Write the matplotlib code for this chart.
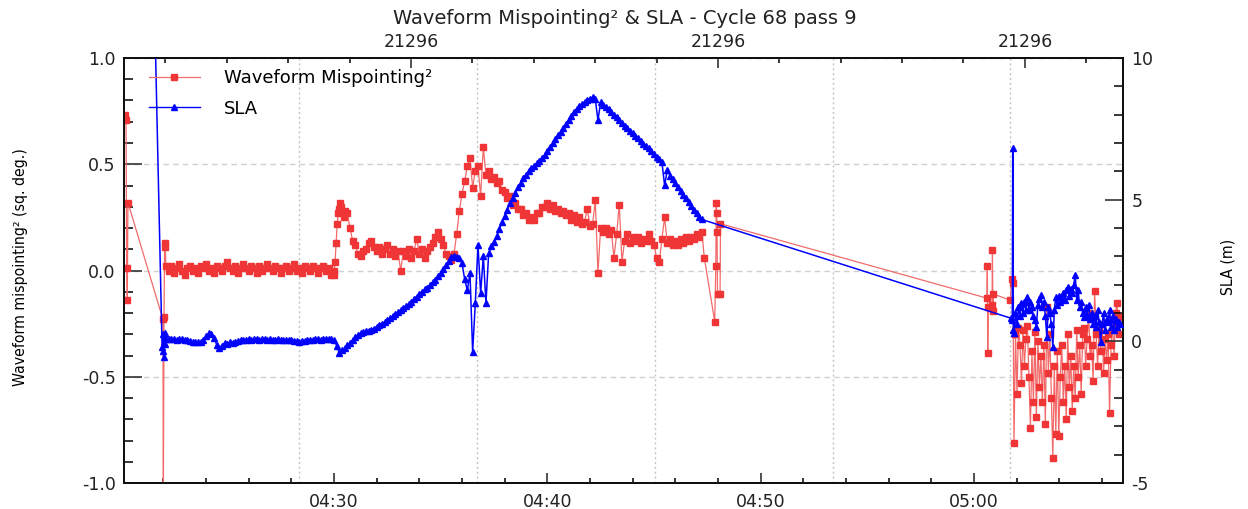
import numpy as np
import matplotlib

matplotlib.use("Agg")
import matplotlib.pyplot as plt
from matplotlib import font_manager
from matplotlib.lines import Line2D
from matplotlib.ticker import FixedLocator, FuncFormatter, MultipleLocator

plt.rcParams["axes.unicode_minus"] = False

# time is in minutes after 04:00; regular stretches are stored as (start, step, values)
MIS_HEAD_T = [20.22, 20.25, 20.28, 20.31, 20.34, 21.98, 22.00, 22.03, 22.06, 22.09, 22.12]
MIS_HEAD = [0.73, 0.71, 0.01, -0.14, 0.32, -0.23, -1.05, -0.22, 0.13, 0.11, 0.02]

MIS_FLAT_T0, MIS_FLAT_DT = 22.25, 0.125
MIS_FLAT = [
    0.00, 0.02, -0.01, 0.01, 0.03, 0.00, -0.02, 0.01, 0.02, 0.00,
    0.01, -0.01, 0.02, 0.01, 0.03, 0.00, 0.01, -0.01, 0.02, 0.01,
    0.00, 0.02, 0.04, 0.01, 0.00, 0.02, -0.01, 0.01, 0.03, 0.01,
    0.00, 0.02, 0.01, -0.01, 0.02, 0.00, 0.01, 0.03, 0.01, 0.00,
    0.02, 0.01, -0.01, 0.01, 0.02, 0.00, 0.01, 0.03, 0.00, 0.01,
    -0.01, 0.02, 0.01, 0.00, 0.02, 0.01, -0.01, 0.01, 0.02, 0.00,
    0.01, -0.02, 0.00,
]

MIS_RISE_T0, MIS_RISE_DT = 30.0, 0.05
MIS_RISE = [-0.02, 0.04, 0.13, 0.22, 0.27, 0.29, 0.32, 0.30, 0.27, 0.25, 0.28]

MIS_MAIN_T0, MIS_MAIN_DT = 30.625, 0.125
MIS_MAIN = [
    0.27, 0.20, 0.14, 0.12, 0.08, 0.07, 0.09, 0.10, 0.13, 0.14,
    0.11, 0.09, 0.11, 0.08, 0.10, 0.12, 0.08, 0.10, 0.07, 0.09,
    0.00, 0.09, 0.07, 0.10, 0.06, 0.09, 0.15, 0.08, 0.10, 0.06,
    0.09, 0.11, 0.13, 0.16, 0.18, 0.15, 0.12, 0.08, 0.07, 0.05,
    0.08, 0.17, 0.28, 0.36, 0.42, 0.49, 0.53, 0.39, 0.47, 0.49,
    0.35, 0.58, 0.45, 0.47, 0.43, 0.44, 0.41, 0.42, 0.38, 0.37,
    0.34, 0.35, 0.31, 0.32, 0.29, 0.29, 0.26, 0.27, 0.24, 0.25,
    0.24, 0.27, 0.27, 0.30, 0.30, 0.32, 0.29, 0.31, 0.28, 0.29,
    0.27, 0.28, 0.26, 0.27, 0.24, 0.26, 0.23, 0.25, 0.22, 0.23,
    0.29, 0.21, 0.22, 0.33, -0.01, 0.20, 0.18, 0.20, 0.17, 0.19,
    0.06, 0.17, 0.31, 0.04, 0.14, 0.17, 0.13, 0.16, 0.14, 0.16,
    0.13, 0.15, 0.14, 0.17, 0.14, 0.12, 0.06, 0.04, 0.15, 0.25,
    0.13, 0.15, 0.12, 0.14, 0.12, 0.15, 0.13, 0.16, 0.14, 0.16,
    0.15, 0.17, 0.16, 0.18,
]

MIS_GAP_T = [47.36, 47.85, 47.90, 47.92, 47.94, 47.96, 47.98, 48.10, 48.12,
             60.61, 60.63, 60.65, 60.67, 60.85, 60.87, 60.89, 60.91, 61.70, 61.78, 61.83]
MIS_GAP = [0.06, -0.24, 0.02, 0.32, 0.27, 0.18, -0.11, -0.11, 0.22,
           -0.13, 0.02, -0.39, -0.17, -0.16, 0.095, -0.19, -0.11, -0.14, -0.04, -0.06]

MIS_TAIL_T0, MIS_TAIL_DT = 61.88, 0.07
MIS_TAIL = [
    -0.81, -0.30, -0.58, -0.27, -0.35, -0.53, -0.28, -0.45, -0.32,
    -0.26, -0.50, -0.74, -0.38, -0.62, -0.29, -0.69, -0.33, -0.55,
    -0.40, -0.62, -0.35, -0.72, -0.17, -0.48, -0.30, -0.60, -0.88,
    -0.45, -0.77, -0.38, -0.78, -0.50, -0.35, -0.62, -0.45, -0.70,
    -0.30, -0.55, -0.40, -0.66, -0.45, -0.60, -0.28, -0.50, -0.35,
    -0.58, -0.30, -0.27, -0.45, -0.32, -0.20, -0.40, -0.35, -0.52,
    -0.095, -0.30, -0.45, -0.28, -0.38, -0.25, -0.48, -0.32, -0.42,
    -0.30, -0.67, -0.35, -0.25, -0.40, -0.20, -0.155, -0.30, -0.22,
]

SLA_HEAD_T = [21.58, 21.94, 21.97, 22.00, 22.03, 22.06, 22.09, 22.12]
SLA_HEAD = [12.0, -0.20, -0.35, 0.25, -0.55, 0.30, -0.10, 0.10]

SLA_FLAT_T0, SLA_FLAT_DT = 22.25, 0.125
SLA_FLAT = [
    0.10, 0.07, 0.09, 0.06, 0.08, 0.07, 0.05, 0.06, 0.02, -0.02,
    -0.04, -0.03, -0.01, 0.05, 0.18, 0.28, 0.27, 0.12, -0.12, -0.22,
    -0.18, -0.05, -0.08, -0.02, -0.06, -0.01, 0.02, 0.03, 0.06, 0.05,
    0.07, 0.06, 0.08, 0.07, 0.05, 0.08, 0.07, 0.06, 0.08, 0.06,
    0.05, 0.07, 0.06, 0.05, 0.04, 0.05, 0.03, 0.02, 0.00, -0.02,
    0.01, 0.02, 0.04, 0.06, 0.05, 0.07, 0.08, 0.06, 0.09, 0.08,
    0.10, 0.07, 0.05,
]

SLA_MAIN_T0, SLA_MAIN_DT = 30.125, 0.125
SLA_MAIN = [
    -0.15, -0.41, -0.32, -0.25, -0.12, -0.06, 0.05, 0.15, 0.22, 0.29,
    0.32, 0.35, 0.38, 0.41, 0.45, 0.52, 0.56, 0.62, 0.68, 0.75,
    0.82, 0.88, 0.95, 1.03, 1.10, 1.17, 1.25, 1.32, 1.40, 1.50,
    1.58, 1.68, 1.75, 1.83, 1.90, 1.98, 2.08, 2.18, 2.30, 2.42,
    2.55, 2.68, 2.85, 2.96, 3.00, 2.99, 2.94, 2.76, 2.20, 1.80,
    2.40, -0.37, 1.35, 3.40, 1.70, 3.00, 1.35, 3.10, 3.35, 3.52,
    3.70, 3.95, 4.20, 4.42, 4.65, 4.88, 5.05, 5.25, 5.45, 5.60,
    5.75, 5.88, 6.00, 6.10, 6.18, 6.28, 6.38, 6.47, 6.57, 6.70,
    6.85, 7.00, 7.13, 7.27, 7.40, 7.53, 7.67, 7.82, 7.97, 8.10,
    8.20, 8.30, 8.38, 8.45, 8.50, 8.55, 8.62, 8.55, 7.80, 8.45,
    8.35, 8.28, 8.20, 8.10, 8.00, 7.92, 7.80, 7.70, 7.60, 7.52,
    7.43, 7.35, 7.26, 7.18, 7.08, 6.98, 6.90, 6.82, 6.72, 6.62,
    6.52, 6.42, 6.32, 5.50, 6.05, 5.85, 5.72, 5.58, 5.45, 5.32,
    5.18, 5.05, 4.92, 4.78, 4.65, 4.52, 4.40, 4.30,
]

SLA_GAP_T = [61.72, 61.80, 61.82, 61.85]
SLA_GAP = [0.82, 0.75, 6.83, 0.40]

SLA_TAIL_T0, SLA_TAIL_DT = 61.88, 0.07
SLA_TAIL = [
    0.30, 1.00, 0.60, 1.20, 0.90, 1.35, 1.00, 1.40, 1.10,
    1.57, 1.10, 1.40, 1.20, 0.90, 0.75, 0.50, 1.30, 1.50,
    1.63, 1.20, 1.40, 0.90, 0.15, 1.20, 1.00, 0.60, -0.20,
    1.10, 1.57, 1.30, 1.60, 1.40, 1.50, 1.70, 1.45, 1.80,
    1.92, 1.60, 1.85, 1.70, 2.00, 2.34, 1.46, 1.80, 1.20,
    1.40, 1.00, 0.86, 1.20, 0.90, 1.30, 0.80, 1.00, 0.60,
    0.90, 0.50, 1.10, 0.70, -0.02, 0.60, 1.00, 0.40, 0.80,
    0.70, 1.10, 0.50, 0.90, 0.40, 0.80, 0.50, 0.70, 0.60,
]

GRID_T = [28.36, 36.70, 45.05, 53.38, 61.70]
TOP_MAJOR_T = [33.61, 48.00, 62.39]
TOP_LABEL = "21296"
TOP_MINOR_STEP = 2.878

RED = "#ef3535"
RED_LINE = "#f26a6a"
BLUE = "#0000ff"


def stamps(t0, dt, vals):
    return t0 + dt * np.arange(len(vals))


def narrow_font():
    # prefer a condensed face for the axis titles, as in the original
    for fam, stretch, size in (("Liberation Sans Narrow", "normal", 12),
                               ("DejaVu Sans", "condensed", 11.3)):
        path = font_manager.findfont(
            font_manager.FontProperties(family=fam, stretch=stretch),
            fallback_to_default=True)
        if "Narrow" in path or "Condensed" in path:
            return dict(family=fam, fontstretch=stretch, fontsize=size)
    return dict(family="Liberation Sans", fontsize=10.6)


mis_t = np.concatenate([
    MIS_HEAD_T,
    stamps(MIS_FLAT_T0, MIS_FLAT_DT, MIS_FLAT),
    stamps(MIS_RISE_T0, MIS_RISE_DT, MIS_RISE),
    stamps(MIS_MAIN_T0, MIS_MAIN_DT, MIS_MAIN),
    MIS_GAP_T,
    stamps(MIS_TAIL_T0, MIS_TAIL_DT, MIS_TAIL),
])
mis_v = np.concatenate([MIS_HEAD, MIS_FLAT, MIS_RISE, MIS_MAIN, MIS_GAP, MIS_TAIL])

sla_t = np.concatenate([
    SLA_HEAD_T,
    stamps(SLA_FLAT_T0, SLA_FLAT_DT, SLA_FLAT),
    stamps(SLA_MAIN_T0, SLA_MAIN_DT, SLA_MAIN),
    SLA_GAP_T,
    stamps(SLA_TAIL_T0, SLA_TAIL_DT, SLA_TAIL),
])
sla_v = np.concatenate([SLA_HEAD, SLA_FLAT, SLA_MAIN, SLA_GAP, SLA_TAIL])

fig = plt.figure(figsize=(12.48, 5.09), dpi=100)
ax = fig.add_axes([124 / 1248, 26 / 509, 999 / 1248, 425 / 509])
ax2 = ax.twinx()

ax.plot(mis_t, mis_v, color=RED_LINE, lw=0.9, marker="s", ms=4.2,
        mfc=RED, mec=RED, zorder=3)
ax2.plot(sla_t, sla_v, color=BLUE, lw=1.1, marker="^", ms=4.4,
         mfc=BLUE, mec=BLUE, zorder=3)

ax.set_xlim(20.155, 66.99)
ax.set_ylim(-1.0, 1.0)
ax2.set_ylim(-5, 10)

for t in GRID_T:
    ax.axvline(t, color="#c4c4c4", lw=1.0, ls=(0, (1.5, 2)), zorder=1)
ax.yaxis.grid(True, which="major", color="#d0d0d0", lw=1.0, ls=(0, (4, 3)), zorder=1)

ax.xaxis.set_major_locator(MultipleLocator(10))
ax.xaxis.set_minor_locator(MultipleLocator(2))
ax.xaxis.set_major_formatter(FuncFormatter(
    lambda m, _: f"{4 + int(round(m)) // 60:02d}:{int(round(m)) % 60:02d}"))
ax.yaxis.set_major_locator(FixedLocator([-1.0, -0.5, 0.0, 0.5, 1.0]))
ax.yaxis.set_minor_locator(MultipleLocator(0.1))
ax.yaxis.set_major_formatter(FuncFormatter(lambda v, _: f"{v:.1f}"))
ax2.yaxis.set_major_locator(MultipleLocator(5))
ax2.yaxis.set_minor_locator(MultipleLocator(1))

ax.tick_params(axis="y", which="major", direction="in", length=12.7, width=1.1,
               labelsize=12.5, pad=6, colors="#222222")
ax.tick_params(axis="y", which="minor", direction="in", length=6.7, width=1.1)
ax2.tick_params(axis="y", which="major", direction="in", length=12.7, width=1.1,
                labelsize=12.5, pad=6, colors="#222222")
ax2.tick_params(axis="y", which="minor", direction="in", length=6.7, width=1.1)
ax.tick_params(axis="x", which="major", direction="in", length=7.2, width=1.1,
               labelsize=12.5, pad=7, colors="#222222")
ax.tick_params(axis="x", which="minor", direction="in", length=3.6, width=1.1)

top = ax.secondary_xaxis("top")
top.set_xticks(TOP_MAJOR_T, labels=[TOP_LABEL] * len(TOP_MAJOR_T))
top.xaxis.set_minor_locator(FixedLocator(
    np.arange(TOP_MAJOR_T[0] - 4 * TOP_MINOR_STEP, 67.0, TOP_MINOR_STEP)))
top.tick_params(axis="x", which="major", direction="in", length=7.2, width=1.1,
                labelsize=12.5, pad=5, colors="#222222")
top.tick_params(axis="x", which="minor", direction="in", length=3.6, width=1.1)

for a in (ax, ax2):
    for sp in a.spines.values():
        sp.set_linewidth(1.4)
        sp.set_color("#111111")
top.spines["top"].set_linewidth(1.4)

fig.text(625 / 1248, 1 - 18 / 509, "Waveform Mispointing² & SLA - Cycle 68 pass 9",
         ha="center", va="center", fontsize=14, color="#222222")

lab = narrow_font()
fig.text(20.5 / 1248, 1 - 267 / 509, "Waveform mispointing² (sq. deg.)",
         rotation=90, ha="center", va="center", **lab)
fig.text(1228 / 1248, 1 - 267 / 509, "SLA (m)",
         rotation=90, ha="center", va="center", **lab)

handles = [
    Line2D([], [], color=RED_LINE, lw=0.9, marker="s", ms=3.7, mfc=RED, mec=RED),
    Line2D([], [], color=BLUE, lw=1.0, marker="^", ms=4.0, mfc=BLUE, mec=BLUE),
]
ax2.legend(handles, ["Waveform Mispointing²", "SLA"], loc="upper left",
           bbox_to_anchor=(0.025, 0.974), frameon=False, borderpad=0,
           borderaxespad=0, handlelength=2.8, handletextpad=1.35,
           labelspacing=0.7, fontsize=13)

fig.savefig("out.png", dpi=100)
